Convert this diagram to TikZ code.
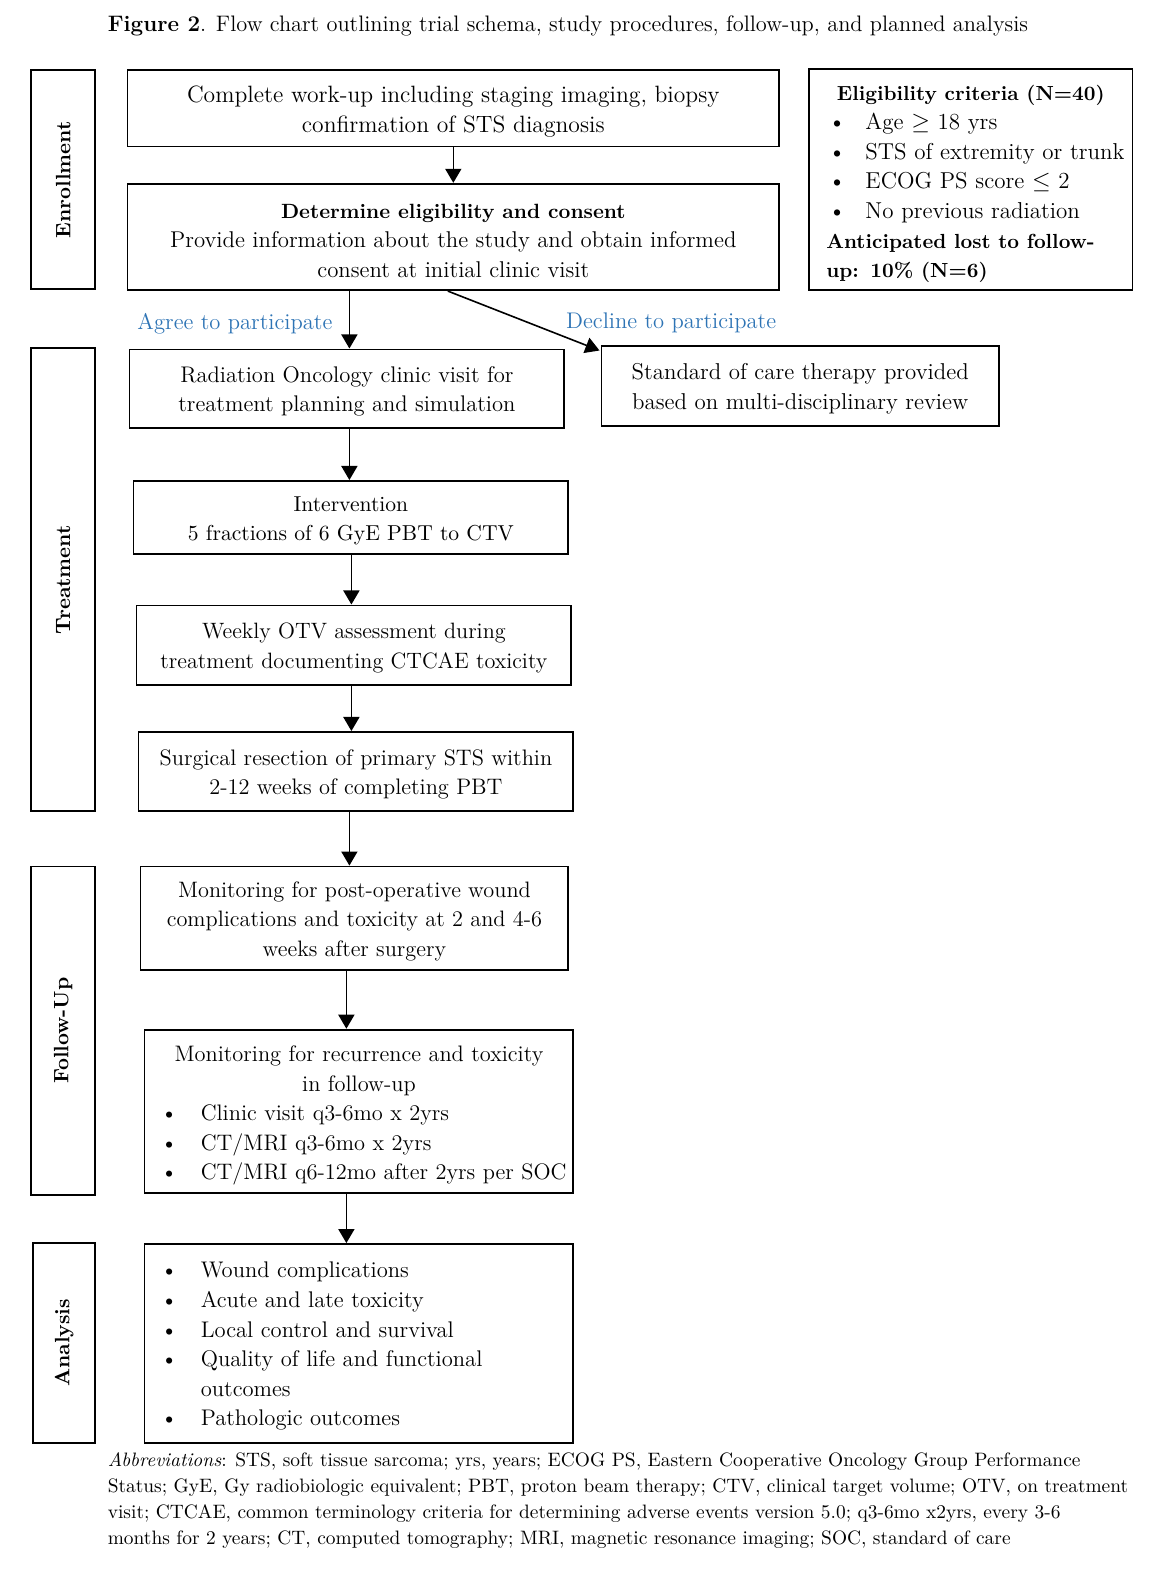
\documentclass[tikz,border=0pt]{standalone}
\usepackage{fontspec}
\usetikzlibrary{arrows.meta}
\definecolor{lblue}{RGB}{46,116,181}
\newcommand{\fsz}[1]{\fontsize{#1}{14.8}\selectfont}
\newcommand{\up}[1][10.8pt]{\rule{0pt}{#1}}
\newcommand{\bitem}[1]{\makebox[20bp][l]{\textbullet}\mbox{#1}}
\newcommand{\eitem}[1]{\makebox[19.5bp][l]{\hspace{1pt}\textbullet}\mbox{#1}}
\tikzset{
  box/.style={draw, line width=0.9pt, align=center, inner sep=0pt, font=\fsz{11.2}},
  side/.style={draw, line width=0.9pt, inner sep=0pt},
  sidetext/.style={rotate=90, font=\fontsize{10.4}{14}\selectfont\bfseries},
  arr/.style={-{Triangle[width=8bp,length=7bp]}, line width=0.8pt},
  lbl/.style={text=lblue, font=\fsz{11.3}, inner sep=0pt},
}
\begin{document}
\begin{tikzpicture}[x=0.5bp, y=-0.5bp]
\useasboundingbox (0,0) rectangle (1155.4,1567.7);

% title
\node[anchor=west, inner sep=0pt, font=\fontsize{11.2}{14}\selectfont] (title) at (107,26)
  {\textbf{Figure 2}. Flow chart outlining trial schema, study procedures, follow-up, and planned analysis};

% side labels
\node[side, minimum width=32bp, minimum height=109bp] (enr) at (63,179) {};
\node[sidetext] (enrt) at (enr.center) {Enrollment};
\node[side, minimum width=32bp, minimum height=230.5bp] (trt) at (63,577.5) {};
\node[sidetext] (trtt) at (trt.center) {Treatment};
\node[side, minimum width=32bp, minimum height=163.5bp] (fu) at (63,1026.5) {};
\node[sidetext] (fut) at (fu.center) {Follow-Up};
\node[side, minimum width=31bp, minimum height=99.5bp] (ana) at (64,1337.5) {};
\node[sidetext] (anat) at (ana.center) {Analysis};

% boxes
\node[box, font=\fsz{11.8}, minimum width=324.5bp, minimum height=38bp] (b1) at (451.5,108)
  {\up[11.2pt]Complete work-up including staging imaging, biopsy\\confirmation of STS diagnosis};
\node[box, font=\fsz{11.4}, minimum width=324.5bp, minimum height=53bp] (b2) at (451.5,236)
  {\up{\fontsize{10.3}{14.8}\selectfont\bfseries Determine eligibility and consent}\\Provide information about the study and obtain informed\\consent at initial clinic visit};
\node[box, font=\fsz{11.5}, align=left, text width=144bp, inner xsep=8.5bp, minimum width=161bp, minimum height=110bp] (elig) at (967,179)
  {\up[11.7pt]\makebox[144bp][c]{\fontsize{10.2}{14.8}\selectfont\bfseries Eligibility criteria (N=40)}\\
   \eitem{Age {$\geq$} 18 yrs}\\
   \eitem{STS of extremity or trunk}\\
   \eitem{ECOG PS score {$\leq$} 2}\\
   \eitem{No previous radiation}\\
   \mbox{\fontsize{10.2}{14.8}\selectfont\bfseries Anticipated lost to follow-}\\
   \mbox{\fontsize{10.2}{14.8}\selectfont\bfseries up: 10\% (N=6)}};
\node[box, font=\fsz{11.3}, minimum width=216.5bp, minimum height=39bp] (rad) at (345.5,387)
  {\up Radiation Oncology clinic visit for\\treatment planning and simulation};
\node[box, font=\fsz{11.45}, minimum width=198bp, minimum height=39.5bp] (soc) at (797,384.5)
  {\up Standard of care therapy provided\\based on multi-disciplinary review};
\node[box, font=\fsz{10.8}, minimum width=216.5bp, minimum height=36.5bp] (int) at (349.5,515.5)
  {\up Intervention\\5 fractions of 6 GyE PBT to CTV};
\node[box, font=\fsz{11.1}, minimum width=216.5bp, minimum height=39.5bp] (wk) at (352.5,642.5)
  {\up Weekly OTV assessment during\\treatment documenting CTCAE toxicity};
\node[box, minimum width=216.5bp, minimum height=39.5bp] (sur) at (354.5,768.5)
  {\up Surgical resection of primary STS within\\2-12 weeks of completing PBT};
\node[box, font=\fsz{11.15}, minimum width=213bp, minimum height=51.5bp] (mon1) at (353,914.5)
  {\up Monitoring for post-operative wound\\complications and toxicity at 2 and 4-6\\weeks after surgery};
\node[box, align=left, text width=197.5bp, inner xsep=8bp, minimum width=213.5bp, minimum height=81.5bp] (mon2) at (357.5,1107)
  {\up[12pt]\makebox[197.5bp][c]{Monitoring for recurrence and toxicity}\\
   \makebox[197.5bp][c]{in follow-up}\\
   \bitem{Clinic visit q3-6mo x 2yrs}\\
   \bitem{CT/MRI q3-6mo x 2yrs}\\
   \bitem{CT/MRI q6-12mo after 2yrs per SOC}};
\node[box, font=\fsz{11.3}, align=left, text width=197.5bp, inner xsep=8bp, minimum width=213.5bp, minimum height=99bp] (anb) at (357.5,1338)
  {\up\bitem{Wound complications}\\
   \bitem{Acute and late toxicity}\\
   \bitem{Local control and survival}\\
   \bitem{Quality of life and functional}\\
   \hspace*{20bp}outcomes\\
   \bitem{Pathologic outcomes}};

% branch labels
\node[lbl] (agree) at (234,322) {Agree to participate};
\node[lbl] (decline) at (668.5,322) {Decline to participate};

% arrows
\draw[arr] (b1.south) -- (b2.north);
\draw[arr] (b2.south -| 348,0) -- (rad.north -| 348,0);
\draw[arr] (b2.south -| 446,0) -- ([xshift=-0.5bp,yshift=-2.5bp]soc.north west);
\draw[arr] (rad.south -| 348,0) -- (int.north -| 348,0);
\draw[arr] (int.south -| 350,0) -- (wk.north -| 350,0);
\draw[arr] (wk.south -| 350,0) -- (sur.north -| 350,0);
\draw[arr] (sur.south -| 348,0) -- (mon1.north -| 348,0);
\draw[arr] (mon1.south -| 345,0) -- (mon2.north -| 345,0);
\draw[arr] (mon2.south -| 345,0) -- (anb.north -| 345,0);

% abbreviations
\node[anchor=north west, align=left, inner sep=0pt, font=\fontsize{9.7}{13.1}\selectfont] (abbr) at (107,1446)
  {\textit{Abbreviations}: STS, soft tissue sarcoma; yrs, years; ECOG PS, Eastern Cooperative Oncology Group Performance\\
   Status; GyE, Gy radiobiologic equivalent; PBT, proton beam therapy; CTV, clinical target volume; OTV, on treatment\\
   visit; CTCAE, common terminology criteria for determining adverse events version 5.0; q3-6mo x2yrs, every 3-6\\
   months for 2 years; CT, computed tomography; MRI, magnetic resonance imaging; SOC, standard of care};
\end{tikzpicture}
\end{document}
